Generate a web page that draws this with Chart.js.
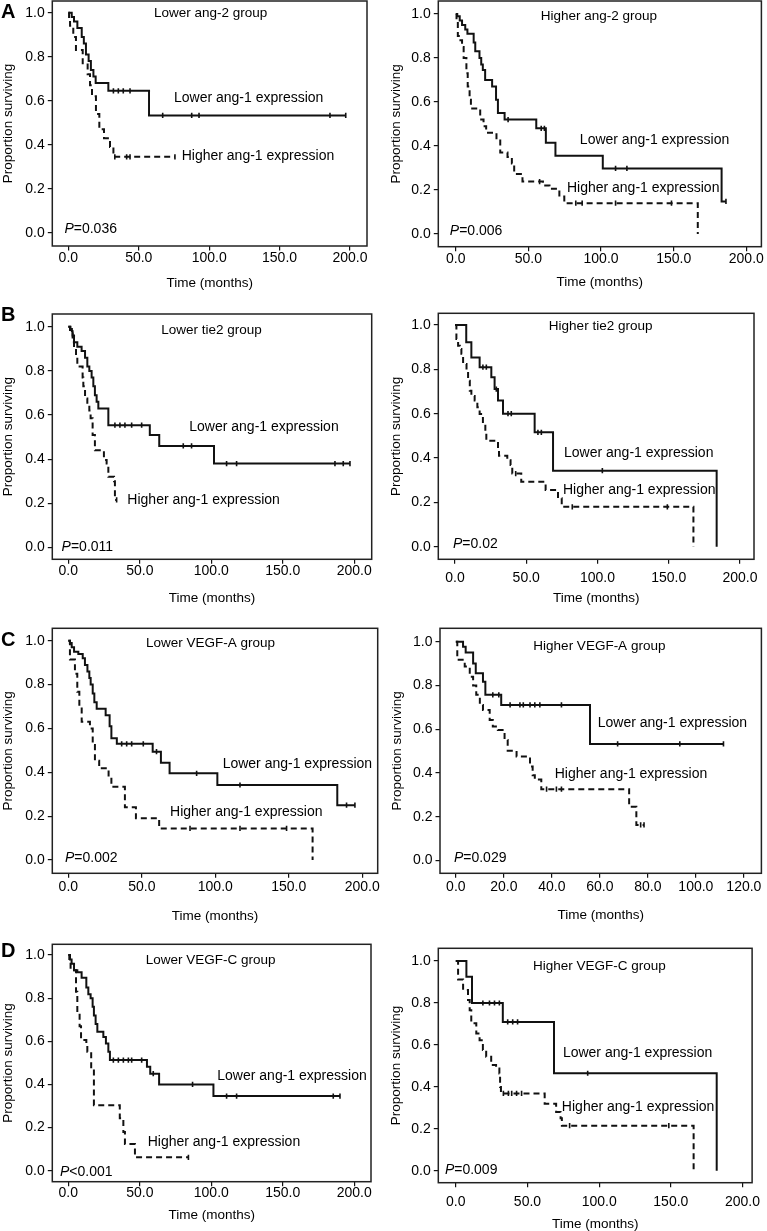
<!DOCTYPE html>
<html>
<head>
<meta charset="utf-8">
<script src="https://cdn.jsdelivr.net/npm/chart.js@4.4.0/dist/chart.umd.min.js"></script>
<style>
  html, body { margin: 0; padding: 0; background: #fff; }
  #fig { position: relative; width: 767px; height: 1231px; overflow: hidden; }
  #fig canvas { position: absolute; }
</style>
</head>
<body>
<div id="fig"></div>
<script>
// ---- data ----
// event times (months) / survival after the event / censoring times
const a1LowT = [2.4, 4, 6.4, 9.5, 11, 12.5, 14.4, 16, 17.8, 19.4, 28.4, 57.3];
const a1LowS = [0.98, 0.96, 0.93, 0.89, 0.86, 0.81, 0.78, 0.74, 0.71, 0.68, 0.645, 0.533];
const a1LowC = [32, 35.5, 39, 43.8, 67, 87.6, 92.8, 185.8, 197];
const a1HighT = [0.5, 1.2, 3.5, 5.4, 10.2, 13.7, 15.4, 16.8, 19.6, 22, 25.3, 29.6, 32];
const a1HighS = [0.97, 0.94, 0.89, 0.83, 0.77, 0.72, 0.67, 0.62, 0.54, 0.47, 0.43, 0.39, 0.345];
const a1HighC = [33, 41.4, 43.8, 75.7];

const a2LowT = [1, 2.7, 4.3, 6.5, 8, 12.3, 13.4, 16.3, 17.5, 18.6, 20.2, 25, 27.7, 29, 33.6, 55.4, 62, 68.6, 101.2, 183];
const a2LowS = [0.99, 0.97, 0.95, 0.93, 0.91, 0.87, 0.83, 0.80, 0.77, 0.745, 0.70, 0.67, 0.61, 0.55, 0.52, 0.48, 0.415, 0.356, 0.298, 0.148];
const a2LowC = [36, 58.8, 61, 110, 117.8, 186];
const a2HighT = [0.5, 1.4, 3.2, 4.3, 5.4, 7.3, 8.2, 9.5, 10.4, 16.8, 19.1, 20.9, 28, 30.6, 35.6, 38.6, 40.2, 45.9, 60, 64.5, 71.3, 74.7, 166.6];
const a2HighS = [0.97, 0.90, 0.88, 0.85, 0.80, 0.73, 0.67, 0.61, 0.57, 0.52, 0.49, 0.46, 0.43, 0.37, 0.35, 0.32, 0.273, 0.238, 0.22, 0.205, 0.17, 0.14, 0];
const a2HighC = [57.7, 82.6, 87, 110, 148.5];

const b1LowT = [1.5, 2.5, 3, 4, 6.3, 9.3, 11.7, 13.3, 14.7, 16.3, 17.5, 18.6, 19.8, 21, 28, 57, 63.6, 101.9];
const b1LowS = [0.99, 0.98, 0.96, 0.93, 0.91, 0.89, 0.86, 0.82, 0.80, 0.77, 0.73, 0.69, 0.66, 0.63, 0.554, 0.51, 0.46, 0.38];
const b1LowC = [32.6, 36.1, 39.6, 44.3, 51.3, 80.4, 86.2, 110.7, 117.7, 186.5, 192.3, 197];
const b1HighT = [1.2, 3, 4, 5.4, 6.3, 10, 10.5, 11.7, 13.3, 14.7, 15.6, 17, 18.6, 24.9, 26.8, 28, 32, 32.6];
const b1HighS = [0.97, 0.93, 0.90, 0.86, 0.82, 0.77, 0.73, 0.675, 0.65, 0.62, 0.585, 0.51, 0.44, 0.396, 0.38, 0.32, 0.30, 0.215];
const b1HighC = [33.8];

const b2LowT = [7.9, 11.5, 17.3, 25.5, 27.8, 30.2, 33.7, 55.9, 68.8, 183.6];
const b2LowS = [0.922, 0.854, 0.81, 0.764, 0.711, 0.66, 0.60, 0.516, 0.343, 0];
const b2LowC = [19.6, 22, 29, 37.2, 39.5, 58.2, 60.6, 103.4];
const b2HighT = [1.0, 2.2, 3.4, 4.5, 5.7, 8.1, 9.2, 10.4, 11.5, 13.8, 15.7, 17.3, 19.6, 21.3, 22, 30.2, 30.9, 36.7, 39, 40.2, 46.5, 63.6, 72.3, 74.9, 167.3];
const b2HighS = [0.937, 0.907, 0.892, 0.87, 0.824, 0.79, 0.749, 0.704, 0.68, 0.659, 0.629, 0.599, 0.553, 0.516, 0.478, 0.44, 0.41, 0.39, 0.368, 0.33, 0.293, 0.256, 0.218, 0.18, 0];
const b2HighC = [42.6, 82.3, 149];

const c1LowT = [1.1, 2.3, 3.9, 6.8, 9.8, 11.3, 13, 14.3, 15.2, 16.6, 17.7, 19.3, 25.4, 28.1, 29.3, 33, 57.4, 63, 68.9, 101.4, 183];
const c1LowS = [0.99, 0.97, 0.95, 0.94, 0.92, 0.89, 0.86, 0.83, 0.80, 0.76, 0.72, 0.69, 0.66, 0.61, 0.555, 0.53, 0.494, 0.444, 0.395, 0.342, 0.25];
const c1LowC = [36.3, 39.7, 43.1, 51, 60, 87.3, 116.8, 189.3, 195];
const c1HighT = [1.1, 4.5, 6.1, 7.5, 9.1, 14.7, 16.6, 18.1, 21, 27.4, 29.3, 38.5, 46, 61.8, 166.2];
const c1HighS = [0.915, 0.85, 0.767, 0.70, 0.63, 0.60, 0.524, 0.453, 0.418, 0.38, 0.334, 0.24, 0.19, 0.144, 0];
const c1HighC = [82.8, 116.8, 148.5];

const c2LowT = [3.0, 4.1, 7.2, 8.3, 11.3, 12.3, 18.9, 55.9];
const c2LowS = [0.977, 0.95, 0.90, 0.856, 0.817, 0.757, 0.711, 0.533];
const c2LowC = [15.4, 17.9, 22.6, 26.7, 28.1, 30.9, 32.9, 35, 44, 67.4, 93.3, 111.5];
const c2HighT = [0.6, 3.7, 5.8, 7.2, 8.5, 10, 11.3, 14.1, 15.4, 17.5, 20.3, 21.6, 25.3, 30.9, 32, 32.9, 35.6, 72.2, 75.2];
const c2HighS = [0.917, 0.886, 0.84, 0.80, 0.757, 0.711, 0.688, 0.642, 0.612, 0.597, 0.551, 0.502, 0.475, 0.43, 0.39, 0.37, 0.326, 0.246, 0.163];
const c2HighC = [37.8, 41.9, 44, 77, 78.4];

const d1LowT = [1.2, 2.3, 4, 6.3, 9.3, 12.6, 14, 15.6, 17, 17.9, 19.1, 20.3, 24.5, 26.3, 28, 29.1, 55, 57.3, 63.5, 101.5];
const d1LowS = [0.98, 0.96, 0.93, 0.92, 0.895, 0.85, 0.818, 0.80, 0.76, 0.72, 0.68, 0.645, 0.62, 0.59, 0.552, 0.513, 0.482, 0.45, 0.40, 0.346];
const d1LowC = [31.5, 35, 38.5, 42, 44.3, 51.3, 59.4, 86.9, 110.7, 117.7, 185.3, 190];
const d1HighT = [0.7, 1.6, 5.4, 6.3, 7.9, 8.9, 12.6, 13.3, 16, 17.9, 36, 38.5, 39.6, 46.6];
const d1HighS = [0.97, 0.93, 0.83, 0.73, 0.67, 0.606, 0.58, 0.552, 0.47, 0.304, 0.243, 0.18, 0.124, 0.062];
const d1HighC = [84];

const d2LowT = [7.4, 11.3, 32.8, 68.5, 182];
const d2LowS = [0.925, 0.80, 0.71, 0.465, 0];
const d2LowC = [18.9, 23.5, 27, 30.4, 36.2, 39.7, 43.1, 92];
const d2HighT = [1.6, 5.1, 8.5, 9.7, 10.8, 14.3, 16.6, 18.9, 21.2, 24.7, 28.1, 30.4, 30.9, 31.5, 62, 70, 73.1, 74, 165.9];
const d2HighS = [0.912, 0.862, 0.814, 0.766, 0.703, 0.655, 0.623, 0.576, 0.544, 0.504, 0.488, 0.464, 0.40, 0.369, 0.32, 0.28, 0.25, 0.215, 0];
const d2HighC = [33.2, 36.7, 39, 42.4, 45.9, 79.4, 148.6];

const xTicks200 = [0, 50, 100, 150, 200];
const xTicks120 = [0, 20, 40, 60, 80, 100, 120];
const yTicks = [0, 0.2, 0.4, 0.6, 0.8, 1.0];

const groupNames = ['Lower ang-2 group', 'Higher ang-2 group', 'Lower tie2 group', 'Higher tie2 group',
  'Lower VEGF-A group', 'Higher VEGF-A group', 'Lower VEGF-C group', 'Higher VEGF-C group'];
const pTexts = ['=0.036', '=0.006', '=0.011', '=0.02', '=0.002', '=0.029', '<0.001', '=0.009'];
const lowName = 'Lower ang-1 expression';
const highName = 'Higher ang-1 expression';

const curves = [
  [a1LowT, a1LowS, a1LowC, a1HighT, a1HighS, a1HighC],
  [a2LowT, a2LowS, a2LowC, a2HighT, a2HighS, a2HighC],
  [b1LowT, b1LowS, b1LowC, b1HighT, b1HighS, b1HighC],
  [b2LowT, b2LowS, b2LowC, b2HighT, b2HighS, b2HighC],
  [c1LowT, c1LowS, c1LowC, c1HighT, c1HighS, c1HighC],
  [c2LowT, c2LowS, c2LowC, c2HighT, c2HighS, c2HighC],
  [d1LowT, d1LowS, d1LowC, d1HighT, d1HighS, d1HighC],
  [d2LowT, d2LowS, d2LowC, d2HighT, d2HighS, d2HighC]
];

// ---- layout of the 8 panels (page px for the frame, data units for texts) ----
const panels = [
  { box: [52.3, 1, 367, 246], xr: [-11.4, 212.1], yr: [-0.060, 1.053], xt: xTicks200, tickOff: 12, titleOff: 37, ytx: 8.3,
    letter: 'A', letterY: 12.5, g: [101, 0.997], lo: [75, 0.61], hi: [80.5, 0.35], p: [-2.8, 0.015] },
  { box: [438.3, 1, 765, 246.7], xr: [-12.05, 210.4], yr: [-0.058, 1.059], xt: xTicks200, tickOff: 12, titleOff: 36, ytx: 395.7,
    g: [98.5, 0.99], lo: [85.4, 0.427], hi: [76.5, 0.21], p: [-4.1, 0.015] },
  { box: [52.3, 314, 371.7, 559.3], xr: [-11.2, 212.2], yr: [-0.054, 1.058], xt: xTicks200, tickOff: 12, titleOff: 39, ytx: 8.3,
    letter: 'B', letterY: 315, g: [100.2, 0.985], lo: [84.6, 0.544], hi: [41.3, 0.215], p: [-4.7, 0.003] },
  { box: [438.3, 313.3, 754, 559.3], xr: [-11.7, 209.8], yr: [-0.057, 1.053], xt: xTicks200, tickOff: 18.4, titleOff: 39, ytx: 395.7,
    g: [102.2, 0.995], lo: [76.5, 0.424], hi: [75.8, 0.253], p: [-1.4, 0.01] },
  { box: [52.3, 628.3, 377.7, 873.3], xr: [-10.9, 210.5], yr: [-0.061, 1.057], xt: xTicks200, tickOff: 14, titleOff: 43, ytx: 8.3,
    letter: 'C', letterY: 640, g: [96.8, 0.99], lo: [105, 0.436], hi: [69.2, 0.217], p: [-2.3, 0.008] },
  { box: [440, 628.3, 764, 873.3], xr: [-6.6, 127.3], yr: [-0.058, 1.061], xt: xTicks120, tickOff: 14, titleOff: 42, ytx: 397.3,
    g: [59.8, 0.98], lo: [59.1, 0.627], hi: [41.2, 0.396], p: [-0.8, 0.01] },
  { box: [52.3, 944.3, 371, 1181.7], xr: [-11.2, 211.7], yr: [-0.051, 1.050], xt: xTicks200, tickOff: 11.5, titleOff: 33.5, ytx: 8.3,
    letter: 'D', letterY: 951.5, g: [99.5, 0.977], lo: [104.2, 0.439], hi: [55.5, 0.134], p: [-5.8, -0.005] },
  { box: [438.3, 948.3, 754.7, 1182.7], xr: [-12.2, 206.7], yr: [-0.057, 1.061], xt: xTicks200, tickOff: 19.5, titleOff: 41.5, ytx: 395.7,
    g: [100.1, 0.973], lo: [74.7, 0.56], hi: [74, 0.302], p: [-7.6, 0.003] }
];

const FONT = "'Liberation Sans', Arial, Helvetica, sans-serif";
const INK = '#111';
const TXT = '#000';

// KM helpers: level of the step curve at time t, curve vertices, censor marks
function levelAt(times, surv, t) {
  let s = 1;
  for (let i = 0; i < times.length; i++) if (times[i] <= t) s = surv[i];
  return s;
}
function curvePoints(times, surv, cens) {
  const pts = [{ x: 0, y: 1 }];
  times.forEach((t, i) => pts.push({ x: t, y: surv[i] }));
  const lastT = times[times.length - 1];
  const end = Math.max(lastT, ...cens);
  if (end > lastT) pts.push({ x: end, y: surv[surv.length - 1] });
  return pts;
}
function censorPoints(times, surv, cens) {
  return cens.map(c => ({ x: c, y: levelAt(times, surv, c) }));
}

const annot = {
  id: 'annot',
  afterDraw(chart, args, o) {
    const { ctx, chartArea: a } = chart;
    const x = chart.scales.x, y = chart.scales.y;
    ctx.save();
    ctx.strokeStyle = '#222';
    ctx.lineWidth = 1.5;
    ctx.strokeRect(a.left, a.top, a.right - a.left, a.bottom - a.top);
    ctx.fillStyle = TXT;
    ctx.textBaseline = 'middle';
    ctx.textAlign = 'center';
    ctx.font = '13.5px ' + FONT;
    ctx.fillText(o.group, x.getPixelForValue(o.g[0]), y.getPixelForValue(o.g[1]));
    ctx.textAlign = 'left';
    ctx.font = '14px ' + FONT;
    ctx.fillText(lowName, x.getPixelForValue(o.lo[0]), y.getPixelForValue(o.lo[1]));
    ctx.fillText(highName, x.getPixelForValue(o.hi[0]), y.getPixelForValue(o.hi[1]));
    const px = x.getPixelForValue(o.p[0]), py = y.getPixelForValue(o.p[1]);
    ctx.font = 'italic 14px ' + FONT;
    ctx.fillText('P', px, py);
    const w = ctx.measureText('P').width;
    ctx.font = '14px ' + FONT;
    ctx.fillText(o.pText, px + w, py);
    if (o.letter) {
      ctx.font = 'bold 20px ' + FONT;
      ctx.fillText(o.letter, o.letterX, o.letterY);
    }
    ctx.restore();
  }
};

const fig = document.getElementById('fig');

panels.forEach((L, i) => {
  const [bl, bt, br, bb] = L.box;
  const cl = Math.max(0, Math.round(L.ytx - 8.1));
  const ct = Math.round(bt - 12);
  const xAxisH = L.titleOff + 8.1;
  // leave room on the right so the last tick label never squeezes the plot
  const cw = Math.min(767 - cl, Math.ceil(br + 14 - cl));
  const ch = Math.ceil(bb + xAxisH - ct) + 1;

  const canvas = document.createElement('canvas');
  canvas.width = cw;
  canvas.height = ch;
  canvas.style.left = cl + 'px';
  canvas.style.top = ct + 'px';
  canvas.style.width = cw + 'px';
  canvas.style.height = ch + 'px';
  fig.appendChild(canvas);

  const [loT, loS, loC, hiT, hiS, hiC] = curves[i];
  const xt = L.xt;
  const censorStyle = { showLine: false, borderColor: INK, pointStyle: 'line', pointRotation: 90,
    pointRadius: 2.6, pointBorderWidth: 1.6, pointBorderColor: INK };

  new Chart(canvas, {
    type: 'line',
    data: {
      datasets: [
        { data: curvePoints(loT, loS, loC), borderColor: INK, borderWidth: 2, stepped: true, pointRadius: 0 },
        { data: curvePoints(hiT, hiS, hiC), borderColor: INK, borderWidth: 2, borderDash: [6, 4], stepped: true, pointRadius: 0 },
        Object.assign({ data: censorPoints(loT, loS, loC) }, censorStyle),
        Object.assign({ data: censorPoints(hiT, hiS, hiC) }, censorStyle)
      ]
    },
    options: {
      responsive: false,
      animation: false,
      events: [],
      layout: {
        padding: { left: 0, top: bt - ct, right: cw - (br - cl), bottom: ch - (bb - ct) - xAxisH }
      },
      plugins: {
        legend: { display: false },
        tooltip: { enabled: false },
        annot: {
          group: groupNames[i], pText: pTexts[i], g: L.g, lo: L.lo, hi: L.hi, p: L.p,
          letter: L.letter, letterX: 1 - cl, letterY: (L.letterY || 0) - ct
        }
      },
      scales: {
        x: {
          type: 'linear',
          min: L.xr[0],
          max: L.xr[1],
          afterBuildTicks: s => { s.ticks = xt.map(v => ({ value: v })); },
          afterFit: s => { s.height = xAxisH; },
          border: { display: false },
          grid: { drawOnChartArea: false, tickLength: 4.5, color: INK, lineWidth: 1.2 },
          ticks: {
            callback: v => v.toFixed(1), color: TXT, font: { family: FONT, size: 14 },
            padding: L.tickOff - 4.5 - 8.4, maxRotation: 0, autoSkip: false
          },
          title: { display: true, text: 'Time (months)', color: TXT, font: { family: FONT, size: 13.5 }, padding: 0 }
        },
        y: {
          type: 'linear',
          min: L.yr[0],
          max: L.yr[1],
          afterBuildTicks: s => { s.ticks = yTicks.map(v => ({ value: v })); },
          afterFit: s => { s.width = bl - cl; },
          border: { display: false },
          grid: { drawOnChartArea: false, tickLength: 4.5, color: INK, lineWidth: 1.2 },
          ticks: { callback: v => v.toFixed(1), color: TXT, font: { family: FONT, size: 14 }, padding: 3 },
          title: { display: true, text: 'Proportion surviving', color: TXT, font: { family: FONT, size: 13.5 }, padding: 0 }
        }
      }
    },
    plugins: [annot]
  });
});
</script>
</body>
</html>
